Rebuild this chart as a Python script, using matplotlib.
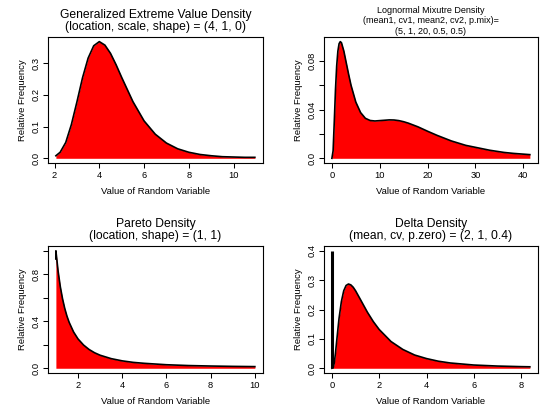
import matplotlib
matplotlib.use("Agg")
import matplotlib.pyplot as plt
import numpy as np

plt.rcParams["font.family"] = ["Liberation Sans", "DejaVu Sans"]

# --- values ---
gev_x = [2.06, 2.25, 2.5, 2.75, 3.0, 3.25, 3.5, 3.75, 4.0, 4.25, 4.5, 4.75, 5.0,
         5.5, 6.0, 6.5, 7.0, 7.5, 8.0, 8.5, 9.0, 9.5, 10.0, 10.5, 10.95]
gev_y = [0.008, 0.019, 0.050, 0.106, 0.178, 0.254, 0.316, 0.355, 0.368, 0.357,
         0.331, 0.295, 0.255, 0.179, 0.118, 0.076, 0.048, 0.030, 0.019, 0.012,
         0.008, 0.005, 0.004, 0.003, 0.003]

lnmix_x = [0, 0.25, 0.5, 0.75, 1.0, 1.25, 1.5, 1.75, 2.0, 2.5, 3.0, 3.5, 4.0,
           5.0, 6.0, 7.0, 8.0, 9.0, 10.0, 11.0, 12.0, 13.0, 14.0, 15.0, 16.0,
           18.0, 20.0, 22.0, 25.0, 28.0, 30.0, 33.0, 36.0, 38.0, 41.4]
lnmix_y = [0.0, 0.0061, 0.0303, 0.0564, 0.0758, 0.0879, 0.0940, 0.0957, 0.0948,
           0.0879, 0.0783, 0.0688, 0.0599, 0.0461, 0.0375, 0.0328, 0.0310, 0.0306,
           0.0309, 0.0312, 0.0315, 0.0314, 0.0309, 0.0300, 0.0288, 0.0258, 0.0222,
           0.0188, 0.0142, 0.0106, 0.0090, 0.0066, 0.0048, 0.0040, 0.0030]

pareto_x = [1.0, 1.0, 1.1, 1.2, 1.3, 1.4, 1.5, 1.6, 1.8, 2.0, 2.25, 2.5, 2.75,
            3.0, 3.5, 4.0, 4.5, 5.0, 6.0, 7.0, 8.0, 9.0, 10.0]
pareto_y = [0.93, 1.0, 0.826, 0.694, 0.592, 0.510, 0.444, 0.391, 0.309, 0.250,
            0.198, 0.160, 0.132, 0.111, 0.082, 0.063, 0.050, 0.042, 0.030, 0.023,
            0.019, 0.016, 0.014]

delta_x = [0, 0.05, 0.1, 0.15, 0.2, 0.3, 0.4, 0.5, 0.6, 0.7, 0.8, 0.9, 1.0, 1.2,
           1.5, 1.75, 2.0, 2.5, 3.0, 3.5, 4.0, 4.5, 5.0, 6.0, 7.0, 8.0, 8.37]
delta_y = [0.0, 0.002, 0.018, 0.051, 0.091, 0.169, 0.227, 0.264, 0.282, 0.287,
           0.284, 0.276, 0.264, 0.235, 0.191, 0.159, 0.132, 0.091, 0.064, 0.045,
           0.033, 0.024, 0.018, 0.011, 0.0075, 0.0055, 0.005]
delta_pzero = 0.4

titles = [
    "Generalized Extreme Value Density\n(location, scale, shape) = (4, 1, 0)",
    "Lognormal Mixutre Density\n(mean1, cv1, mean2, cv2, p.mix)=\n(5, 1, 20, 0.5, 0.5)",
    "Pareto Density\n(location, shape) = (1, 1)",
    "Delta Density\n(mean, cv, p.zero) = (2, 1, 0.4)",
]
xticks = [[2, 4, 6, 8, 10], [0, 10, 20, 30, 40], [2, 4, 6, 8, 10], [0, 2, 4, 6, 8]]
yticks = [[0.0, 0.1, 0.2, 0.3], [0.0, 0.02, 0.04, 0.06, 0.08],
          [0.0, 0.2, 0.4, 0.6, 0.8, 1.0], [0.0, 0.1, 0.2, 0.3, 0.4]]
ylabels = [["0.0", "0.1", "0.2", "0.3"], ["0.0", "", "0.04", "", "0.08"],
           ["0.0", "", "0.4", "", "0.8", ""], ["0.0", "0.1", "0.2", "0.3", "0.4"]]


def r_range(lo, hi):
    pad = 0.04 * (hi - lo)
    return lo - pad, hi + pad


def draw_density(ax, x, y, i, ymax=None, title_size=8.7, title_pad=5, spacing=1.05):
    ax.fill_between(x, 0, y, color="#ff0000", linewidth=0)
    ax.plot(x, y, color="black", linewidth=1.2)
    ax.set_xlim(*r_range(min(x), max(x)))
    ax.set_ylim(*r_range(0, ymax if ymax is not None else max(y)))
    ax.set_xticks(xticks[i])
    ax.set_xticklabels([str(v) for v in xticks[i]])
    ax.set_yticks(yticks[i])
    ax.set_yticklabels(ylabels[i])
    for lab in ax.get_yticklabels():
        lab.set_rotation(90)
        lab.set_va("center")
    ax.tick_params(direction="out", length=3.5, width=0.75, labelsize=6.7, pad=2)
    for sp in ax.spines.values():
        sp.set_linewidth(0.8)
    ax.set_title(titles[i], fontsize=title_size, pad=title_pad, linespacing=spacing)
    ax.set_xlabel("Value of Random Variable", fontsize=6.8, labelpad=5)
    ax.set_ylabel("Relative Frequency", fontsize=6.8, labelpad=3)


fig = plt.figure(figsize=(5.51, 4.20), dpi=100)
ax1 = fig.add_axes([0.087, 0.612, 0.390, 0.300])
ax2 = fig.add_axes([0.588, 0.612, 0.388, 0.300])
ax3 = fig.add_axes([0.087, 0.112, 0.390, 0.302])
ax4 = fig.add_axes([0.588, 0.112, 0.388, 0.302])

draw_density(ax1, gev_x, gev_y, 0)
draw_density(ax2, lnmix_x, lnmix_y, 1, title_size=6.5, title_pad=2, spacing=1.25)
draw_density(ax3, pareto_x, pareto_y, 2)
draw_density(ax4, delta_x, delta_y, 3, ymax=delta_pzero)
ax4.vlines(0, 0, delta_pzero, color="black", linewidth=2.2)

fig.savefig("out.png", dpi=100)
